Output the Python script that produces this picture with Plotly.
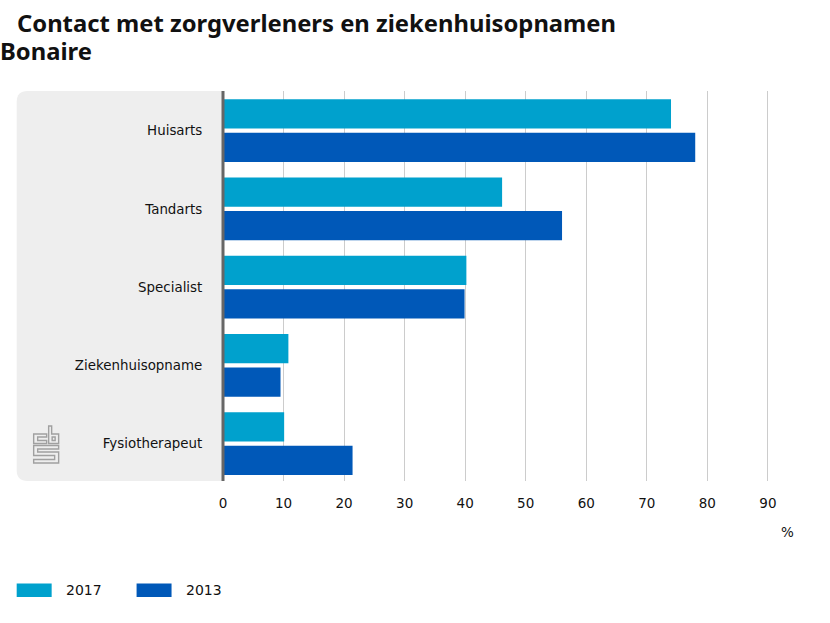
import plotly.graph_objects as go

categories = ["Huisarts", "Tandarts", "Specialist", "Ziekenhuisopname", "Fysiotherapeut"]
values_2017 = [74, 46.1, 40.2, 10.8, 10.1]
values_2013 = [78, 56, 39.9, 9.5, 21.4]
x_ticks = [0, 10, 20, 30, 40, 50, 60, 70, 80, 90]

W, H = 830, 623
LEFT, RIGHT, TOP, BOTTOM = 222.5, 770, 91, 481
FONT = "DejaVu Sans"
TITLE_FONT = "Noto Sans"
INK = "#111111"
C17, C13 = "#00a1cd", "#0058b8"

def px(x): return (x - LEFT) / (RIGHT - LEFT)
def py(y): return (BOTTOM - y) / (BOTTOM - TOP)

def path(points):
    return "M" + " L".join(f"{px(a):.5f},{py(b):.5f}" for a, b in points) + " Z"

fig = go.Figure()
fig.add_bar(y=categories, x=values_2017, name="2017", orientation="h", marker_color=C17, marker_line_width=0, showlegend=False)
fig.add_bar(y=categories, x=values_2013, name="2013", orientation="h", marker_color=C13, marker_line_width=0, showlegend=False)

shapes = []
# grey panel behind the category labels, rounded on its left corners
r = 11
L, R_, T, B = 16, 222, TOP, BOTTOM
panel = (f"M{px(R_)},{py(T)} L{px(L+r)},{py(T)} Q{px(L)},{py(T)} {px(L)},{py(T+r)} "
         f"L{px(L)},{py(B-r)} Q{px(L)},{py(B)} {px(L+r)},{py(B)} L{px(R_)},{py(B)} Z")
shapes.append(dict(type="path", xref="paper", yref="paper", path=panel, fillcolor="#eeeeee",
                   line_width=0, layer="below"))
# zero line, on top of the bars' left ends
shapes.append(dict(type="line", xref="paper", yref="paper", x0=px(222.5), x1=px(222.5), y0=0, y1=1,
                   line=dict(color="#666666", width=3), layer="above"))
# logo
logo = [
    [(46, 434), (33, 434), (33, 443.5), (46, 443.5), (46, 440.5), (37, 440.5), (37, 437), (46, 437)],
    [(48, 426), (51, 426), (51, 434), (58, 434), (58, 443.5), (48, 443.5)],
    [(51.5, 437), (54.5, 437), (54.5, 440.5), (51.5, 440.5)],
    [(33, 445.5), (58, 445.5), (58, 449), (37, 449), (37, 452), (58, 452), (58, 463), (33, 463),
     (33, 459.5), (54, 459.5), (54, 455.5), (33, 455.5)],
]
for pts in logo:
    shapes.append(dict(type="path", xref="paper", yref="paper", path=path(pts),
                       line=dict(color="#a0a0a0", width=1.4), layer="above"))
# legend swatches
for x0, col in [(16, C17), (136, C13)]:
    shapes.append(dict(type="rect", xref="paper", yref="paper", x0=px(x0), x1=px(x0 + 35),
                       y0=py(597), y1=py(583.5), fillcolor=col, line_width=0))

annotations = [
    dict(text="<b>Contact met zorgverleners en ziekenhuisopnamen</b>", x=px(14), y=py(23.5), xanchor="left",
         font=dict(family=TITLE_FONT, size=23.8, color=INK)),
    dict(text="<b>Bonaire</b>", x=px(-3), y=py(51.5), xanchor="left",
         font=dict(family=TITLE_FONT, size=23.8, color=INK)),
    dict(text="%", x=px(787.5), y=py(532), xanchor="center", font=dict(family=FONT, size=13.5, color=INK)),
    dict(text="2017", x=px(63), y=py(590), xanchor="left", font=dict(family=FONT, size=14, color=INK)),
    dict(text="2013", x=px(183), y=py(590), xanchor="left", font=dict(family=FONT, size=14, color=INK)),
]
for a in annotations:
    a.update(xref="paper", yref="paper", yanchor="middle", showarrow=False)

fig.update_layout(
    width=W, height=H, autosize=False,
    margin=dict(l=LEFT, r=W - RIGHT, t=TOP, b=H - BOTTOM, pad=0),
    paper_bgcolor="white", plot_bgcolor="rgba(0,0,0,0)",
    barmode="group", bargap=0.146, bargroupgap=0.125,
    shapes=shapes, annotations=annotations, showlegend=False,
    font=dict(family=FONT, size=14, color=INK),
)
fig.update_xaxes(range=[0, 90.35], tickvals=x_ticks, showgrid=True, gridcolor="#cccccc", gridwidth=1,
                 zeroline=False, showline=False, ticks="outside", ticklen=10, tickcolor="rgba(0,0,0,0)",
                 tickwidth=0, tickfont=dict(family=FONT, size=13.5, color=INK), fixedrange=True)
fig.update_yaxes(range=[4.477, -0.507], showgrid=False, zeroline=False, showline=False,
                 ticks="outside", ticklen=17, tickcolor="rgba(0,0,0,0)", tickwidth=0,
                 tickfont=dict(family=FONT, size=13.4, color=INK), fixedrange=True)

fig.write_html("out.html", config=dict(displayModeBar=False),
               post_script="document.body.style.margin='0';")
